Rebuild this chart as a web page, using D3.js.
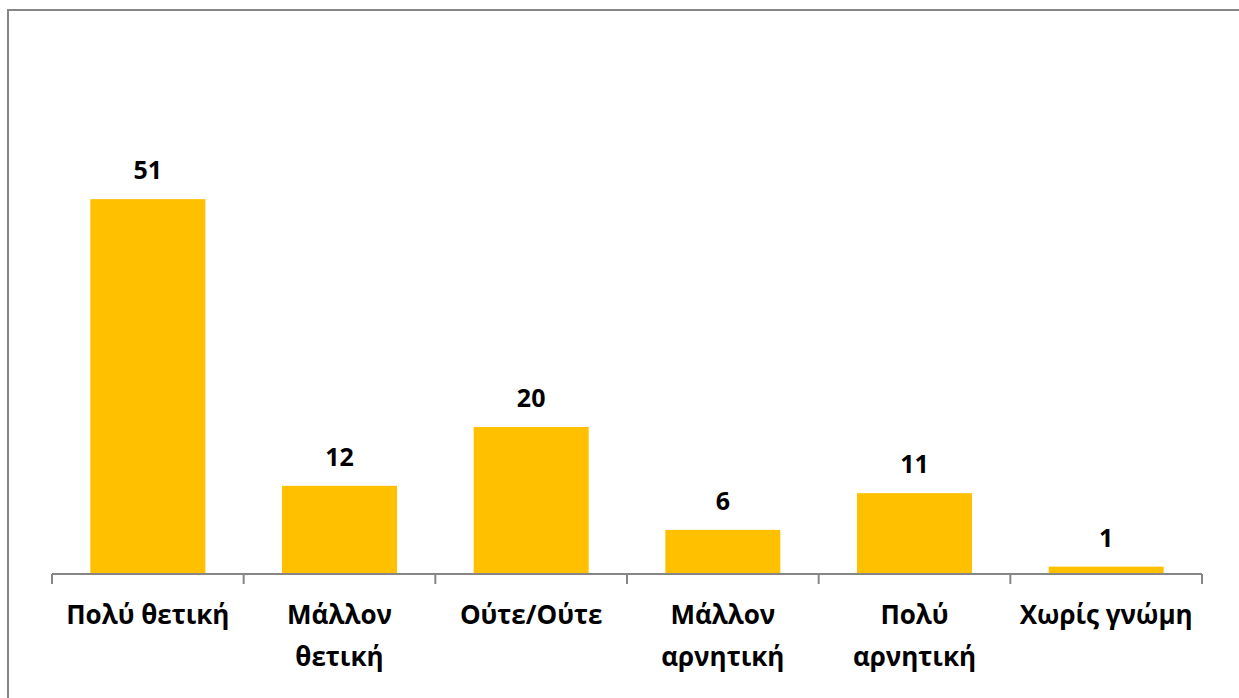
<!DOCTYPE html>
<html>
<head>
<meta charset="utf-8">
<script src="https://cdn.jsdelivr.net/npm/d3@7"></script>
<style>
  body { margin: 0; background: #fff; }
  svg { display: block; font-family: "Open Sans", "Noto Sans", sans-serif; }
</style>
</head>
<body>
<svg id="chart" width="1239" height="698"></svg>
<script>
const categories = [
  ["Πολύ θετική"],
  ["Μάλλον", "θετική"],
  ["Ούτε/Ούτε"],
  ["Μάλλον", "αρνητική"],
  ["Πολύ", "αρνητική"],
  ["Χωρίς γνώμη"]
];
const values = [51, 12, 20, 6, 11, 1];

const width = 1239, height = 698;
const plot = { left: 52, right: 1202, top: 133, bottom: 574 };

const svg = d3.select("#chart");

// outer frame (extends past right and bottom edges)
svg.append("rect")
  .attr("x", 8).attr("y", 10)
  .attr("width", 1260).attr("height", 720)
  .attr("fill", "none")
  .attr("stroke", "#868686")
  .attr("stroke-width", 2);

const keys = categories.map((c, i) => i);

const x = d3.scaleBand()
  .domain(keys)
  .range([plot.left, plot.right])
  .paddingInner(0.4)
  .paddingOuter(0.2);

const y = d3.scaleLinear().domain([0, 60]).range([plot.bottom, plot.top]);

svg.selectAll("rect.bar")
  .data(values)
  .join("rect")
  .attr("class", "bar")
  .attr("x", (d, i) => x(i))
  .attr("y", d => y(d))
  .attr("width", x.bandwidth())
  .attr("height", d => y(0) - y(d))
  .attr("fill", "#FFC000");

svg.selectAll("text.value")
  .data(values)
  .join("text")
  .attr("class", "value")
  .attr("x", (d, i) => x(i) + x.bandwidth() / 2)
  .attr("y", d => y(d) - 20)
  .attr("text-anchor", "middle")
  .attr("font-size", 25)
  .attr("font-weight", 700)
  .attr("fill", "#000")
  .text(d => d);

// category axis with ticks at boundaries
const boundaries = d3.range(categories.length + 1).map(i => plot.left + i * (plot.right - plot.left) / categories.length);

svg.append("line")
  .attr("x1", plot.left).attr("x2", plot.right)
  .attr("y1", plot.bottom).attr("y2", plot.bottom)
  .attr("stroke", "#868686").attr("stroke-width", 2);

svg.selectAll("line.tick")
  .data(boundaries)
  .join("line")
  .attr("class", "tick")
  .attr("x1", d => d).attr("x2", d => d)
  .attr("y1", plot.bottom).attr("y2", plot.bottom + 10)
  .attr("stroke", "#868686").attr("stroke-width", 2);

const labels = svg.selectAll("text.cat")
  .data(categories)
  .join("text")
  .attr("class", "cat")
  .attr("text-anchor", "middle")
  .attr("font-size", 26)
  .attr("font-weight", 700)
  .attr("fill", "#000");

labels.selectAll("tspan")
  .data((d, i) => d.map((line, j) => ({ line, j, i })))
  .join("tspan")
  .attr("x", d => x(d.i) + x.bandwidth() / 2)
  .attr("y", d => 624 + d.j * 42)
  .text(d => d.line);
</script>
</body>
</html>
